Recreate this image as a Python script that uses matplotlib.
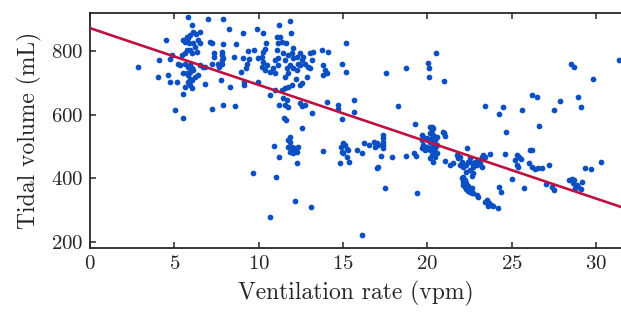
import numpy as np
import matplotlib.pyplot as plt

# readings: ventilation rate (vpm) vs tidal volume (mL), grouped by region of the plot
low_rate_x = [5.83, 7.02, 7.87, 8.26, 9.05, 9.88, 4.51, 6.03, 6.13, 6.28, 6.52, 5.93, 5.73, 5.53, 5.63,
              5.83, 7.11, 7.21, 7.87, 8.64, 5.89, 6.13, 6.42, 6.52, 5.73, 5.93, 6.23, 6.32, 6.03, 5.63,
              5.43, 7.81, 7.81, 7.35, 7.35, 8.56, 9.39, 9.74, 9.09, 9.29, 9.25, 4.84, 4.74, 4.11, 2.87,
              4.05, 4.64, 4.74, 5.14, 5.24, 5.34, 5.63, 5.93, 5.83, 6.03, 6.13, 6.52, 6.72, 6.82, 7.21,
              7.61, 7.81, 7.81, 7.91, 7.67, 5.93, 5.83, 5.93, 6.03, 5.83, 6.23, 6.42, 6.82, 5.73, 5.53,
              5.93, 6.03, 5.63, 5.49, 7.75, 8.30, 8.93, 9.13, 9.13, 9.45, 5.04, 5.49, 7.21, 7.87, 8.60,
              9.98, 9.98, 9.68, 10.67]
low_rate_y = [906, 900, 900, 867, 857, 867, 835, 880, 860, 854, 860, 849, 844, 835, 828,
              839, 828, 823, 820, 820, 823, 825, 833, 823, 802, 802, 813, 797, 792, 792,
              786, 797, 786, 792, 781, 781, 800, 802, 776, 760, 745, 786, 773, 771, 750,
              719, 723, 703, 703, 760, 755, 760, 755, 750, 745, 739, 755, 750, 750, 760,
              758, 760, 771, 776, 750, 734, 724, 713, 708, 703, 719, 724, 696, 729, 729,
              692, 682, 685, 666, 708, 687, 734, 703, 692, 773, 614, 588, 619, 629, 627,
              776, 703, 417, 278]

mid_upper_x = [10.28, 11.21, 11.86, 11.92, 10.44, 10.38, 10.24, 10.18, 10.28, 10.18, 10.38, 10.48, 10.67,
               10.87, 10.97, 11.07, 11.27, 11.36, 11.17, 11.62, 12.06, 11.07, 11.17, 10.97, 11.17, 11.46,
               11.56, 11.76, 11.96, 12.06, 12.25, 12.45, 12.65, 12.55, 12.35, 12.75, 12.95, 13.04, 13.14,
               13.04, 13.24, 13.78, 14.09, 12.06, 12.25, 12.45, 11.86, 11.66, 11.76, 11.56, 12.21, 12.85,
               12.55, 12.45, 11.96, 11.76, 11.56, 11.36, 10.97, 10.67, 13.84, 13.93, 13.80, 14.03, 15.16,
               14.96, 15.18, 17.53, 18.74, 20.06, 20.12, 20.12, 20.49, 18.28, 15.67, 15.67, 14.72, 14.72,
               14.92, 14.07, 13.14, 12.75, 12.55, 12.45, 11.66, 11.56, 11.76, 11.46, 11.23, 11.50, 11.60,
               12.55, 19.27, 20.26]
mid_upper_y = [857, 880, 893, 857, 823, 807, 797, 781, 766, 750, 739, 755, 734,
               745, 729, 844, 844, 828, 823, 823, 810, 802, 776, 771, 755, 794,
               771, 786, 794, 776, 781, 794, 781, 771, 760, 760, 750, 745, 771,
               794, 797, 804, 797, 745, 739, 755, 755, 745, 729, 719, 710, 719,
               698, 692, 692, 685, 682, 677, 677, 661, 755, 739, 724, 729, 825,
               760, 732, 731, 747, 763, 745, 719, 794, 628, 645, 607, 630, 616,
               585, 640, 606, 630, 627, 635, 645, 630, 624, 651, 629, 588, 583,
               559, 572, 560]

mid_lower_x = [11.86, 11.76, 11.86, 11.76, 11.96, 12.06, 11.86, 12.06, 12.16, 12.35, 12.25, 10.91, 11.23,
               12.27, 11.05, 13.84, 14.88, 15.02, 15.12, 14.92, 15.02, 15.22, 15.32, 15.26, 15.36, 14.84,
               15.81, 16.13, 16.25, 16.56, 16.86, 17.00, 16.90, 17.10, 17.39, 17.39, 17.39, 17.39, 17.39,
               17.25, 17.10, 17.04, 17.91, 18.74, 19.21, 19.33, 17.49, 19.41, 12.17, 13.10, 16.13]
mid_lower_y = [529, 520, 515, 499, 499, 489, 484, 479, 494, 499, 484, 503, 468,
               447, 404, 486, 499, 510, 505, 484, 479, 491, 489, 466, 452, 449,
               488, 480, 510, 506, 515, 510, 499, 505, 536, 526, 515, 505, 494,
               470, 437, 432, 468, 470, 479, 471, 371, 353, 329, 311, 224]

rate20_x = [19.67, 19.76, 19.67, 19.76, 19.67, 19.86, 19.96, 19.96, 20.16, 20.26, 20.36, 20.16, 20.36, 20.26,
            20.45, 20.16, 20.36, 20.26, 20.45, 20.16, 20.36, 20.26, 20.45, 20.36, 20.16, 20.55, 20.55, 20.55]
rate20_y = [536, 531, 520, 505, 494, 489, 526, 499, 562, 552, 557, 541, 536, 526,
            520, 515, 510, 499, 494, 489, 484, 473, 468, 452, 463, 479, 505, 531]

high_rate_x = [20.96, 23.43, 24.48, 24.26, 25.62, 26.18, 26.51, 26.63, 27.50, 27.88, 28.53, 28.69, 28.96,
               29.10, 29.81, 31.36, 20.98, 21.04, 20.94, 21.04, 22.36, 24.68, 24.58, 25.29, 25.45, 25.19,
               25.29, 25.39, 25.58, 26.08, 26.18, 26.04, 26.18, 26.37, 26.57, 26.77, 27.24, 24.99, 25.72,
               24.26, 24.36, 27.01, 27.38, 27.52, 28.41, 28.55, 28.69, 28.61, 28.85, 28.94, 29.08, 28.75,
               29.14, 29.36, 29.68, 30.27]
high_rate_y = [706, 626, 625, 602, 614, 661, 655, 565, 614, 644, 758, 748, 654,
               623, 712, 772, 541, 533, 546, 455, 494, 545, 477, 472, 468, 458,
               442, 437, 460, 488, 489, 449, 437, 428, 432, 432, 441, 397, 369,
               372, 357, 381, 372, 363, 395, 397, 395, 385, 379, 372, 366, 369,
               388, 432, 429, 451]

rate22_x = [21.34, 21.53, 21.73, 21.83, 21.93, 22.03, 21.93, 22.13, 22.32, 22.42, 22.52, 22.62, 22.72,
            22.82, 22.92, 23.02, 23.11, 23.21, 23.31, 23.41, 23.71, 23.21, 22.52, 22.72, 22.32, 22.62,
            22.03, 22.13, 22.09, 22.22, 22.32, 22.42, 22.52, 22.32, 22.62, 22.72, 22.92, 23.02, 22.22,
            22.42, 22.62, 22.13, 23.41, 23.55, 23.67, 23.75, 23.90, 23.61, 24.18]
rate22_y = [442, 447, 473, 463, 468, 452, 442, 437, 442, 452, 463, 447, 437,
            452, 442, 458, 447, 468, 473, 466, 476, 437, 426, 416, 421, 408,
            400, 390, 379, 374, 366, 362, 358, 385, 353, 355, 348, 343, 395,
            376, 369, 405, 327, 332, 324, 317, 314, 314, 308]

# linear fit
fit_intercept = 871
fit_slope = -17.8

x = np.array(low_rate_x + mid_upper_x + mid_lower_x + rate20_x + high_rate_x + rate22_x)
y = np.array(low_rate_y + mid_upper_y + mid_lower_y + rate20_y + high_rate_y + rate22_y)

plt.rcParams['font.family'] = 'serif'
plt.rcParams['font.serif'] = ['cmr10']
plt.rcParams['axes.formatter.use_mathtext'] = True

fig = plt.figure(figsize=(6.21, 3.2), dpi=100)
ax = fig.add_axes([90 / 621, 0.226, 1 - 90 / 621, 0.734])

ax.scatter(x, y, s=17, color='#0a50c4', linewidths=0, zorder=2)

xlim = (0, 31.48)
xs = np.array(xlim)
ax.plot(xs, fit_intercept + fit_slope * xs, color='#c0103f', linewidth=1.9, zorder=3)

ax.set_xlim(*xlim)
ax.set_ylim(183, 919)
ax.set_xticks([0, 5, 10, 15, 20, 25, 30])
ax.set_yticks([200, 400, 600, 800])

for side in ['left', 'bottom', 'top']:
    ax.spines[side].set_color('#262626')
    ax.spines[side].set_linewidth(1.3)
ax.spines['right'].set_visible(False)
ax.tick_params(direction='in', top=True, right=False, length=4, width=1.1,
               color='#262626', labelsize=15, labelcolor='#262626', pad=5)

ax.set_xlabel('Ventilation rate (vpm)', fontsize=17, color='#262626', labelpad=6)
ax.set_ylabel('Tidal volume (mL)', fontsize=17, color='#262626', labelpad=6)

fig.savefig('out.png', dpi=100)
